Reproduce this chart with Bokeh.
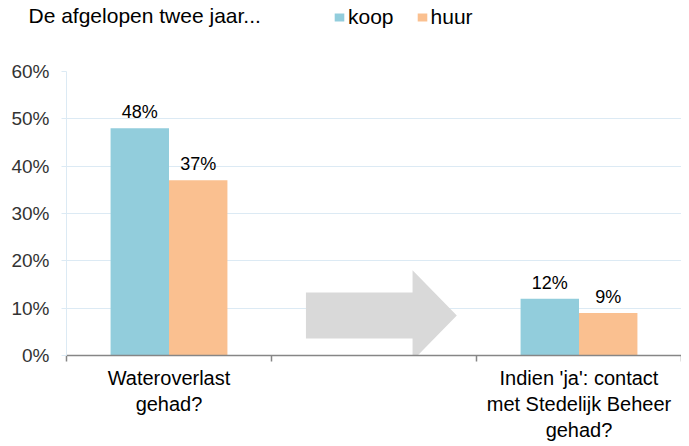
from bokeh.plotting import figure
from bokeh.layouts import column, row
from bokeh.models import (ColumnDataSource, FixedTicker, PrintfTickFormatter, Label,
                          Legend, LegendItem, Range1d)
from bokeh.core.properties import value
from bokeh.embed import file_html
from bokeh.resources import INLINE

# ---- data ----
categories = ["Wateroverlast\ngehad?", "", "Indien 'ja': contact\nmet Stedelijk Beheer\ngehad?"]
koop = [48, None, 12]
huur = [37, None, 9]
title_text = "De afgelopen twee jaar..."
series_names = ["koop", "huur"]
y_ticks = [0, 10, 20, 30, 40, 50, 60]

BLUE = "#92CDDC"
ORANGE = "#FAC090"
FONT = "Liberation Sans"
W = 681
HEAD_H = 36

n = len(categories)
idx = [i for i in range(n) if koop[i] is not None]
centers = [i + 0.5 for i in idx]
bw = 0.285

src_k = ColumnDataSource(dict(x=[c - bw / 2 for c in centers],
                              top=[koop[i] for i in idx],
                              lab=[f"{koop[i]}%" for i in idx]))
src_h = ColumnDataSource(dict(x=[c + bw / 2 for c in centers],
                              top=[huur[i] for i in idx],
                              lab=[f"{huur[i]}%" for i in idx]))

# ---------- header: title + legend ----------
head = figure(width=W, height=HEAD_H, output_backend="svg", toolbar_location=None,
              x_range=Range1d(0, 1), y_range=Range1d(0, 1),
              x_axis_location=None, y_axis_location=None,
              min_border_left=0, min_border_right=0, min_border_top=0, min_border_bottom=0)
head.grid.visible = False
head.outline_line_color = None
# legend swatches only (no visible data in the header)
swatch = ColumnDataSource(dict(x=[float("nan")], top=[float("nan")]))
hk = head.vbar(x="x", top="top", width=0.1, source=swatch, fill_color=BLUE, line_color=None)
hh = head.vbar(x="x", top="top", width=0.1, source=swatch, fill_color=ORANGE, line_color=None)
head.add_layout(Label(x=28, y=21, x_units="screen", y_units="screen", text=title_text,
                      text_baseline="alphabetic",
                      text_font=FONT, text_font_size="21px", text_color="#000000"))
legend = Legend(items=[LegendItem(label=series_names[0], renderers=[hk]),
                       LegendItem(label=series_names[1], renderers=[hh])],
                orientation="horizontal", location=(333, 7),
                glyph_width=12, glyph_height=10, label_standoff=3, spacing=22,
                label_height=10, padding=0, margin=0, border_line_color=None,
                background_fill_alpha=0,
                label_text_font=FONT, label_text_font_size="21px", label_text_color="#000000")
head.add_layout(legend, "center")

# ---------- main chart ----------
p = figure(width=W, height=408, output_backend="svg", toolbar_location=None,
           x_range=Range1d(0, n), y_range=Range1d(0, 60),
           min_border_left=66, min_border_right=0, min_border_top=71 - HEAD_H,
           min_border_bottom=85)
p.outline_line_color = None
p.background_fill_color = "white"

p.xgrid.visible = False
p.ygrid.grid_line_color = "#DCEAF4"
p.ygrid.grid_line_width = 1

# decorative arrow in the middle (empty) category
a0 = 1
arrow_x = [a0 + 0.168, a0 + 0.688, a0 + 0.688, a0 + 0.904, a0 + 0.688, a0 + 0.688, a0 + 0.168]
arrow_y = [13.3, 13.3, 18.0, 8.45, -1.1, 3.6, 3.6]
p.patch(arrow_x, arrow_y, fill_color="#D9D9D9", line_color=None)

p.vbar(x="x", top="top", width=bw, source=src_k, fill_color=BLUE, line_color=None)
p.vbar(x="x", top="top", width=bw, source=src_h, fill_color=ORANGE, line_color=None)

for s in (src_k, src_h):
    p.text(x="x", y="top", text="lab", source=s, text_align="center", text_baseline="alphabetic",
           y_offset=-16, text_font=value(FONT), text_font_size="18px", text_color="#000000")

# y axis
p.yaxis.ticker = FixedTicker(ticks=y_ticks)
p.yaxis.formatter = PrintfTickFormatter(format="%d%%")
p.yaxis.axis_line_color = "#DCEAF4"
p.yaxis.major_tick_line_color = "#DCEAF4"
p.yaxis.major_tick_out = 5
p.yaxis.major_tick_in = 0
p.yaxis.minor_tick_line_color = None
p.yaxis.major_label_text_font = FONT
p.yaxis.major_label_text_font_size = "19px"
p.yaxis.major_label_text_color = "#333333"
p.yaxis.major_label_standoff = 12

# x axis
p.xaxis.ticker = FixedTicker(ticks=centers, minor_ticks=list(range(n + 1)))
p.xaxis.major_label_overrides = {c: categories[i] for c, i in zip(centers, idx)}
p.xaxis.axis_line_color = "#868686"
p.xaxis.axis_line_width = 1.5
p.xaxis.major_tick_line_color = None
p.xaxis.minor_tick_line_color = "#868686"
p.xaxis.minor_tick_line_width = 1.5
p.xaxis.minor_tick_out = 6
p.xaxis.minor_tick_in = 0
p.xaxis.major_label_text_font = FONT
p.xaxis.major_label_text_font_size = "20px"
p.xaxis.major_label_text_color = "#000000"
p.xaxis.major_label_standoff = 5

layout = column(row(head), p, spacing=0)
open("out.html", "w").write(file_html(layout, INLINE))
